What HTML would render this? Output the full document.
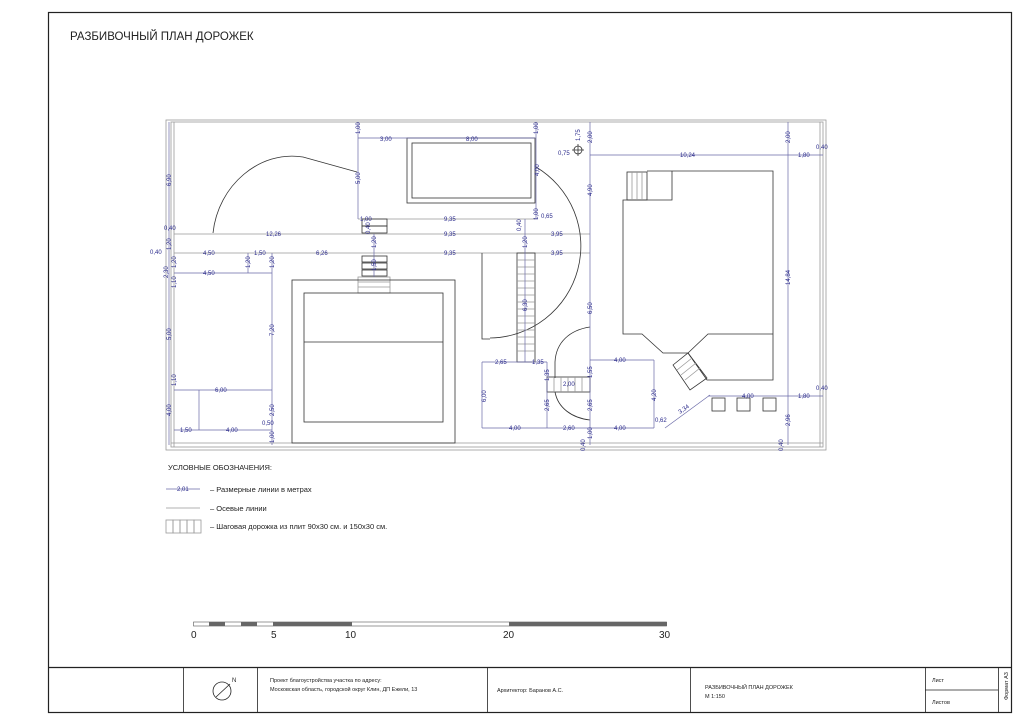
<!DOCTYPE html>
<html><head><meta charset="utf-8"><style>
html,body{margin:0;padding:0;background:#fff;}
svg{display:block;font-family:"Liberation Sans",sans-serif;}
.d{fill:#2b2b8c;font-size:6px;}
.l{stroke:#333;stroke-width:0.8;fill:none;}
.g{stroke:#999;stroke-width:0.8;fill:none;}
.b{stroke:#6a6aa8;stroke-width:0.7;fill:none;}
.t{fill:#222;}
</style></head><body>
<svg width="1024" height="724" viewBox="0 0 1024 724" xmlns="http://www.w3.org/2000/svg">
<!-- frame -->
<rect x="48.5" y="12.5" width="963" height="700" fill="none" stroke="#222" stroke-width="1.2"/>
<text x="70" y="40" class="t" font-size="11.5">РАЗБИВОЧНЫЙ ПЛАН ДОРОЖЕК</text>

<!-- plot boundary -->
<rect x="166" y="120" width="660" height="330" class="g"/>
<rect x="171" y="122" width="652" height="325" class="g"/>
<line x1="174" y1="122" x2="174" y2="447" class="g"/>
<line x1="820" y1="122" x2="820" y2="447" class="g"/>
<line x1="171" y1="443" x2="823" y2="443" class="g"/>

<!-- top pool -->
<rect x="407" y="138" width="128" height="65" class="l"/>
<rect x="412" y="143" width="119" height="55" class="l"/>
<!-- arc bed -->
<path d="M213,233 C218,185 260,150 303,157 L357,172" class="l"/>
<!-- main path lines -->
<line x1="174" y1="234" x2="590" y2="234" class="g"/>
<line x1="174" y1="253" x2="590" y2="253" class="g"/>
<line x1="358" y1="219" x2="535" y2="219" class="g"/>
<!-- small steps -->
<rect x="362" y="219" width="25" height="7" class="l"/><rect x="362" y="226" width="25" height="7" class="l"/>
<rect x="362" y="256" width="25" height="6" class="l"/><rect x="362" y="263" width="25" height="6" class="l"/><rect x="362" y="270" width="25" height="6" class="l"/>
<rect x="358" y="277" width="32" height="16" class="g"/>
<line x1="358" y1="282" x2="390" y2="282" class="g"/><line x1="358" y1="287" x2="390" y2="287" class="g"/>
<!-- lower building -->
<rect x="292" y="280" width="163" height="163" class="l"/>
<rect x="304" y="293" width="139" height="129" class="l"/>
<line x1="304" y1="342" x2="443" y2="342" class="l"/>
<!-- bed near stepping -->
<path d="M482,253 L482,339 L490,339" class="l"/>
<path d="M536,167 A92,92 0 0 1 490,338" class="l"/>
<!-- stepping stones vertical -->
<g class="l">
<rect x="517" y="253" width="18" height="109"/>
</g>
<g class="g">
<line x1="517" y1="260" x2="535" y2="260"/><line x1="517" y1="267" x2="535" y2="267"/><line x1="517" y1="274" x2="535" y2="274"/><line x1="517" y1="281" x2="535" y2="281"/><line x1="517" y1="288" x2="535" y2="288"/><line x1="517" y1="295" x2="535" y2="295"/><line x1="517" y1="302" x2="535" y2="302"/><line x1="517" y1="309" x2="535" y2="309"/><line x1="517" y1="316" x2="535" y2="316"/><line x1="517" y1="323" x2="535" y2="323"/><line x1="517" y1="330" x2="535" y2="330"/><line x1="517" y1="337" x2="535" y2="337"/><line x1="517" y1="344" x2="535" y2="344"/><line x1="517" y1="351" x2="535" y2="351"/>
</g>
<!-- small arc -->
<path d="M590,327 C570,330 556,342 555,362 L555,378" class="l"/>
<path d="M555,392 C558,408 572,418 590,420" class="l"/>
<rect x="547" y="377" width="43" height="15" class="l"/>
<line x1="554" y1="377" x2="554" y2="392" class="g"/><line x1="561" y1="377" x2="561" y2="392" class="g"/><line x1="568" y1="377" x2="568" y2="392" class="g"/><line x1="575" y1="377" x2="575" y2="392" class="g"/><line x1="582" y1="377" x2="582" y2="392" class="g"/>
<!-- house -->
<path d="M647,171 L773,171 L773,380 L707,380 L688,353 L663,353 L642,334 L623,334 L623,200 L672,200 L672,171" class="l"/>
<path d="M773,334 L708,334 L688,353" class="l"/>
<rect x="627" y="172" width="20" height="28" class="l"/>
<line x1="632" y1="172" x2="632" y2="200" class="g"/><line x1="637" y1="172" x2="637" y2="200" class="g"/><line x1="642" y1="172" x2="642" y2="200" class="g"/>
<path d="M673,365 L688,353 L707,378 L690,390 Z" class="l"/>
<line x1="677" y1="370" x2="692" y2="358" class="g"/><line x1="681" y1="375" x2="696" y2="363" class="g"/><line x1="685" y1="380" x2="700" y2="368" class="g"/>
<rect x="712" y="398" width="13" height="13" class="l"/><rect x="737" y="398" width="13" height="13" class="l"/><rect x="763" y="398" width="13" height="13" class="l"/>
<circle cx="578" cy="150" r="4" class="l"/><line x1="572" y1="150" x2="584" y2="150" class="l"/><line x1="578" y1="144" x2="578" y2="156" class="l"/>

<!-- dimension lines -->
<g class="b">
<line x1="358" y1="122" x2="358" y2="219"/><line x1="358" y1="138" x2="535" y2="138"/>
<line x1="536" y1="122" x2="536" y2="220"/>
<line x1="590" y1="122" x2="590" y2="445"/>
<line x1="590" y1="155" x2="823" y2="155"/>
<line x1="788" y1="122" x2="788" y2="445"/>
<line x1="708" y1="396" x2="823" y2="396"/>
<line x1="272" y1="253" x2="272" y2="445"/>
<line x1="174" y1="273" x2="272" y2="273"/>
<line x1="174" y1="390" x2="272" y2="390"/>
<line x1="199" y1="390" x2="199" y2="430"/>
<line x1="174" y1="430" x2="272" y2="430"/>
<line x1="248" y1="253" x2="248" y2="273"/>
<line x1="169" y1="122" x2="169" y2="445"/>
<line x1="374" y1="234" x2="374" y2="277"/>
<line x1="525" y1="219" x2="525" y2="362"/>
<line x1="482" y1="362" x2="547" y2="362"/>
<line x1="482" y1="362" x2="482" y2="428"/>
<line x1="482" y1="428" x2="654" y2="428"/>
<line x1="590" y1="360" x2="654" y2="360"/>
<line x1="654" y1="360" x2="654" y2="428"/>
<line x1="665" y1="428" x2="710" y2="395"/>
<line x1="547" y1="362" x2="547" y2="428"/>
</g>

<!-- labels -->
<g class="d">
<text x="380" y="141">3,00</text><text x="466" y="141">8,00</text>
<text x="444" y="221">9,35</text><text x="444" y="236">9,35</text><text x="444" y="255">9,35</text>
<text x="164" y="230">0,40</text><text x="266" y="236">12,26</text>
<text x="150" y="254">0,40</text><text x="203" y="255">4,50</text><text x="254" y="255">1,50</text><text x="316" y="255">6,26</text>
<text x="203" y="275">4,50</text><text x="215" y="392">6,00</text><text x="180" y="432">1,50</text><text x="226" y="432">4,00</text>
<text x="262" y="425">0,50</text><text x="360" y="221">1,00</text>
<text x="558" y="155">0,75</text><text x="680" y="157">10,24</text><text x="798" y="157">1,80</text><text x="816" y="149">0,40</text>
<text x="541" y="218">0,65</text><text x="551" y="236">3,95</text><text x="551" y="255">3,95</text>
<text x="495" y="364">2,65</text><text x="532" y="364">1,35</text><text x="563" y="386">2,00</text><text x="614" y="362">4,00</text>
<text x="798" y="398">1,80</text><text x="816" y="390">0,40</text><text x="742" y="398">4,00</text>
<text x="655" y="422">0,62</text><text x="509" y="430">4,00</text><text x="563" y="430">2,60</text><text x="614" y="430">4,00</text>
<text transform="translate(680,414) rotate(-35)">3,34</text>
</g>
<g class="d">
<text transform="translate(171,186) rotate(-90)">6,90</text>
<text transform="translate(360,134) rotate(-90)">1,00</text>
<text transform="translate(360,184) rotate(-90)">5,00</text>
<text transform="translate(370,234) rotate(-90)">0,40</text>
<text transform="translate(171,250) rotate(-90)">1,20</text>
<text transform="translate(250,268) rotate(-90)">1,20</text>
<text transform="translate(274,268) rotate(-90)">1,20</text>
<text transform="translate(176,268) rotate(-90)">1,20</text>
<text transform="translate(168,278) rotate(-90)">2,30</text>
<text transform="translate(176,288) rotate(-90)">1,10</text>
<text transform="translate(376,248) rotate(-90)">1,20</text>
<text transform="translate(376,271) rotate(-90)">1,50</text>
<text transform="translate(171,340) rotate(-90)">5,00</text>
<text transform="translate(274,336) rotate(-90)">7,20</text>
<text transform="translate(176,386) rotate(-90)">1,10</text>
<text transform="translate(171,416) rotate(-90)">4,00</text>
<text transform="translate(274,416) rotate(-90)">2,50</text>
<text transform="translate(274,443) rotate(-90)">1,00</text>
<text transform="translate(486,402) rotate(-90)">6,00</text>
<text transform="translate(538,134) rotate(-90)">1,00</text>
<text transform="translate(580,141) rotate(-90)">1,75</text>
<text transform="translate(592,143) rotate(-90)">2,00</text>
<text transform="translate(790,143) rotate(-90)">2,00</text>
<text transform="translate(539,176) rotate(-90)">4,00</text>
<text transform="translate(592,196) rotate(-90)">4,90</text>
<text transform="translate(538,220) rotate(-90)">1,00</text>
<text transform="translate(521,231) rotate(-90)">0,40</text>
<text transform="translate(527,248) rotate(-90)">1,20</text>
<text transform="translate(790,285) rotate(-90)">14,84</text>
<text transform="translate(592,314) rotate(-90)">6,50</text>
<text transform="translate(527,311) rotate(-90)">6,30</text>
<text transform="translate(549,381) rotate(-90)">1,35</text>
<text transform="translate(592,378) rotate(-90)">1,55</text>
<text transform="translate(656,401) rotate(-90)">4,20</text>
<text transform="translate(549,411) rotate(-90)">2,65</text>
<text transform="translate(592,411) rotate(-90)">2,65</text>
<text transform="translate(790,426) rotate(-90)">2,96</text>
<text transform="translate(592,439) rotate(-90)">1,00</text>
<text transform="translate(585,451) rotate(-90)">0,40</text>
<text transform="translate(783,451) rotate(-90)">0,40</text>
</g>

<!-- legend -->
<text x="168" y="470" class="t" font-size="7.5">УСЛОВНЫЕ ОБОЗНАЧЕНИЯ:</text>
<line x1="166" y1="489" x2="200" y2="489" class="b"/>
<text x="177" y="491" class="d" font-size="5">2,01</text>
<text x="210" y="492" class="t" font-size="7.5">– Размерные линии в метрах</text>
<line x1="166" y1="508" x2="200" y2="508" class="g"/>
<text x="210" y="511" class="t" font-size="7.5">– Осевые линии</text>
<g class="g"><rect x="166" y="520" width="7" height="13"/><rect x="173" y="520" width="7" height="13"/><rect x="180" y="520" width="7" height="13"/><rect x="187" y="520" width="7" height="13"/><rect x="194" y="520" width="7" height="13"/></g>
<text x="210" y="529" class="t" font-size="7.5">– Шаговая дорожка из плит 90х30 см. и 150х30 см.</text>

<!-- scale bar -->
<rect x="193.5" y="622" width="473" height="4" fill="#fff" stroke="#555" stroke-width="0.6"/>
<g fill="#666"><rect x="209" y="622" width="16" height="4"/><rect x="241" y="622" width="16" height="4"/><rect x="273" y="622" width="79" height="4"/><rect x="509" y="622" width="158" height="4"/></g>
<g class="t" font-size="10"><text x="191" y="638">0</text><text x="271" y="638">5</text><text x="345" y="638">10</text><text x="503" y="638">20</text><text x="659" y="638">30</text></g>

<!-- title block -->
<line x1="48" y1="667.5" x2="1012" y2="667.5" stroke="#222" stroke-width="1.2"/>
<g stroke="#222" stroke-width="0.8">
<line x1="183.5" y1="667" x2="183.5" y2="712"/><line x1="257.5" y1="667" x2="257.5" y2="712"/>
<line x1="487.5" y1="667" x2="487.5" y2="712"/><line x1="690.5" y1="667" x2="690.5" y2="712"/>
<line x1="925.5" y1="667" x2="925.5" y2="712"/><line x1="998.5" y1="667" x2="998.5" y2="712"/>
<line x1="925" y1="690" x2="998" y2="690"/>
</g>
<circle cx="222" cy="691" r="9" fill="none" stroke="#222" stroke-width="0.8"/>
<line x1="216" y1="697" x2="230" y2="684" stroke="#222" stroke-width="0.8"/>
<text x="232" y="682" class="t" font-size="6">N</text>
<text x="270" y="682" class="t" font-size="5.5">Проект благоустройства участка по адресу:</text>
<text x="270" y="691" class="t" font-size="5.5">Московская область, городской округ Клин, ДП Ежели, 13</text>
<text x="497" y="692" class="t" font-size="5.5">Архитектор: Баранов А.С.</text>
<text x="705" y="689" class="t" font-size="5.5">РАЗБИВОЧНЫЙ ПЛАН ДОРОЖЕК</text>
<text x="705" y="698" class="t" font-size="5.5">М 1:150</text>
<text x="932" y="682" class="t" font-size="5.5">Лист</text>
<text x="932" y="704" class="t" font-size="5.5">Листов</text>
<text transform="translate(1008,700) rotate(-90)" class="t" font-size="5.5">Формат А3</text>
</svg>
</body></html>
